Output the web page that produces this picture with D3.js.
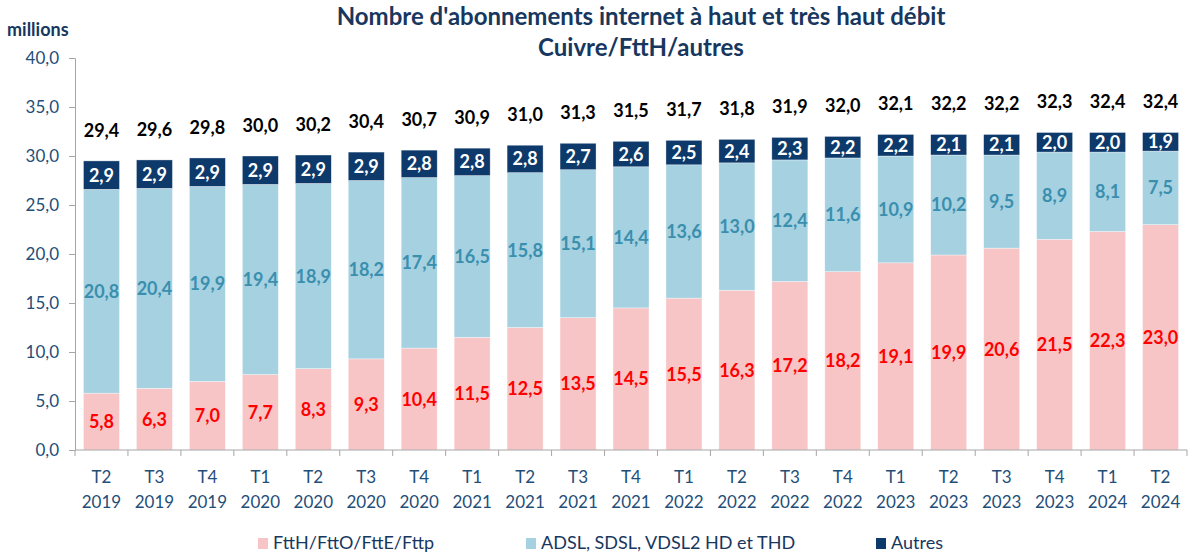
<!DOCTYPE html>
<html><head><meta charset="utf-8">
<script src="https://cdn.jsdelivr.net/npm/d3@7"></script>
<style>
html,body{margin:0;padding:0;background:#fff;}
svg text{font-family:Lato,"Open Sans",sans-serif;}
</style></head>
<body>
<svg id="chart" width="1190" height="557"></svg>
<script>
const quarters = ["T2","T3","T4","T1","T2","T3","T4","T1","T2","T3","T4","T1","T2","T3","T4","T1","T2","T3","T4","T1","T2"];
const years = ["2019","2019","2019","2020","2020","2020","2020","2021","2021","2021","2021","2022","2022","2022","2022","2023","2023","2023","2023","2024","2024"];
const ftth = [5.8,6.3,7.0,7.7,8.3,9.3,10.4,11.5,12.5,13.5,14.5,15.5,16.3,17.2,18.2,19.1,19.9,20.6,21.5,22.3,23.0];
const cuivre = [20.8,20.4,19.9,19.4,18.9,18.2,17.4,16.5,15.8,15.1,14.4,13.6,13.0,12.4,11.6,10.9,10.2,9.5,8.9,8.1,7.5];
const autres = [2.9,2.9,2.9,2.9,2.9,2.9,2.8,2.8,2.8,2.7,2.6,2.5,2.4,2.3,2.2,2.2,2.1,2.1,2.0,2.0,1.9];
const totals = [29.4,29.6,29.8,30.0,30.2,30.4,30.7,30.9,31.0,31.3,31.5,31.7,31.8,31.9,32.0,32.1,32.2,32.2,32.3,32.4,32.4];
const yTicks = [0,5,10,15,20,25,30,35,40];
const seriesNames = ["FttH/FttO/FttE/Fttp","ADSL, SDSL, VDSL2 HD et THD","Autres"];
const colors = ["#F8C5C7","#A5D1E1","#0D3A6B"];
const labelColors = ["#FF0000","#3A8FAE","#FFFFFF"];

(function(){
const fmt = v => d3.format(".1f")(v).replace(".", ",");
const svg = d3.select("#chart");
const mL = 75, mR = 1187, mT = 58, mB = 450;
const idx = d3.range(quarters.length);
const x = d3.scaleBand().domain(idx).range([mL, mR]).paddingInner(0.32).paddingOuter(0.16);
const y = d3.scaleLinear().domain([0,40]).range([mB, mT]);

const rows = idx.map(i => ({i, ftth: ftth[i], cuivre: cuivre[i], autres: autres[i]}));
const stack = d3.stack().keys(["ftth","cuivre","autres"])(rows);

svg.append("text").attr("x",641).attr("y",25).attr("text-anchor","middle")
  .attr("font-size",24).attr("font-weight","bold").attr("fill","#17375E")
  .text("Nombre d'abonnements internet à haut et très haut débit");
svg.append("text").attr("x",641).attr("y",56).attr("text-anchor","middle")
  .attr("font-size",24).attr("font-weight","bold").attr("fill","#17375E")
  .text("Cuivre/FttH/autres");
svg.append("text").attr("x",7).attr("y",36)
  .attr("font-size",18).attr("font-weight","bold").attr("fill","#17375E")
  .text("millions");

stack.forEach((layer, k) => {
  const g = svg.append("g");
  g.selectAll("rect").data(layer).join("rect")
    .attr("x", d => x(d.data.i)).attr("width", x.bandwidth())
    .attr("y", d => y(d[1])).attr("height", d => y(d[0]) - y(d[1]))
    .attr("fill", colors[k]).attr("stroke","#ffffff").attr("stroke-width",0.6).attr("stroke-opacity",0.6);
  g.selectAll("text").data(layer).join("text")
    .attr("x", d => x(d.data.i) + x.bandwidth()/2)
    .attr("y", d => (y(d[0]) + y(d[1]))/2)
    .attr("dy","0.36em").attr("text-anchor","middle")
    .attr("font-size",18).attr("font-weight","bold").attr("fill", labelColors[k])
    .text(d => fmt(d[1]-d[0]));
});

svg.append("g").selectAll("text").data(idx).join("text")
  .attr("x", i => x(i) + x.bandwidth()/2)
  .attr("y", i => y(ftth[i]+cuivre[i]+autres[i]) - 24)
  .attr("text-anchor","middle").attr("font-size",18).attr("font-weight","bold").attr("fill","#000")
  .text(i => fmt(totals[i]));

const yAxis = svg.append("g").attr("transform",`translate(${mL},0)`)
  .call(d3.axisLeft(y).tickValues(yTicks).tickSize(6).tickPadding(10).tickFormat(fmt));
yAxis.select(".domain").attr("stroke","#A6A6A6");
yAxis.selectAll(".tick line").attr("stroke","#A6A6A6");
yAxis.selectAll(".tick text").attr("font-size",17).attr("fill","#1F4E79").attr("font-family","Lato,sans-serif");

const xAxisG = svg.append("g");
xAxisG.append("line").attr("x1",mL).attr("x2",mR).attr("y1",mB).attr("y2",mB).attr("stroke","#A6A6A6");
const bounds = d3.range(quarters.length+1).map(j => mL + j*(mR-mL)/quarters.length);
xAxisG.selectAll("line.tk").data(bounds).join("line").attr("class","tk")
  .attr("x1",d=>d).attr("x2",d=>d).attr("y1",mB).attr("y2",mB+6).attr("stroke","#A6A6A6");
const xl = xAxisG.selectAll("text").data(idx).join("text")
  .attr("text-anchor","middle").attr("font-size",17).attr("fill","#1F4E79");
xl.append("tspan").attr("x", i => x(i)+x.bandwidth()/2).attr("y",483).text(i => quarters[i]);
xl.append("tspan").attr("x", i => x(i)+x.bandwidth()/2).attr("y",508).text(i => years[i]);

const legX = [273, 541, 891];
const leg = svg.append("g");
seriesNames.forEach((n, k) => {
  leg.append("rect").attr("x",legX[k]-15).attr("y",538).attr("width",10).attr("height",11).attr("fill",colors[k]);
  leg.append("text").attr("x",legX[k]).attr("y",549).attr("font-size",18).attr("fill","#17375E").text(n);
});
})();
</script>
</body></html>
